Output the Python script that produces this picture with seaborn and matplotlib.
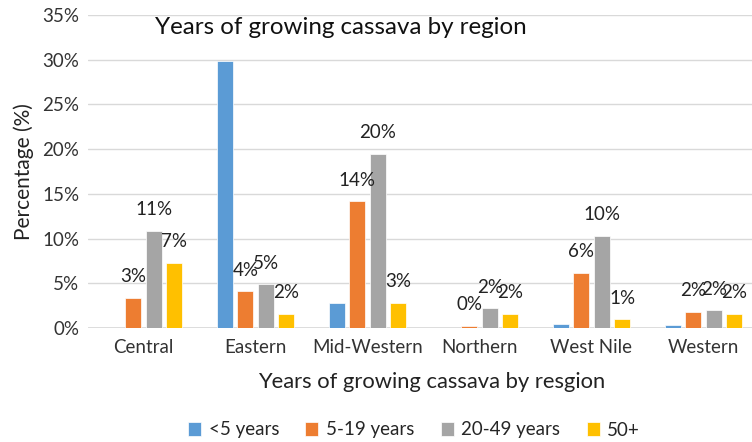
# Import Libraries
import pandas as pd
import matplotlib.pyplot as plt
import seaborn as sns

# Data (percent)
regions = ["Central", "Eastern", "Mid-Western", "Northern", "West Nile", "Western"]
groups = ["<5 years", "5-19 years", "20-49 years", "50+"]
under_5 = [0.0, 29.9, 2.8, 0.0, 0.5, 0.3]
y5_19 = [3.4, 4.1, 14.2, 0.25, 6.2, 1.8]
y20_49 = [10.9, 4.9, 19.5, 2.2, 10.3, 2.0]
y50_plus = [7.3, 1.6, 2.8, 1.6, 1.0, 1.6]
labelled = ["5-19 years", "20-49 years", "50+"]
colors = ["#5B9BD5", "#ED7D31", "#A5A5A5", "#FFC000"]

# Build long table for seaborn
rows = []
for g, vals in zip(groups, [under_5, y5_19, y20_49, y50_plus]):
    for r, v in zip(regions, vals):
        rows.append({"region": r, "group": g, "pct": v})
df = pd.DataFrame(rows)

sns.set_style("white")
plt.rcParams['font.family'] = ['Lato', 'DejaVu Sans']

fig = plt.figure(figsize=(7.52, 4.42), dpi=100)
ax = fig.add_axes([87.5 / 752, 1 - 328 / 442, 672 / 752, 313 / 442])

sns.barplot(data=df, x="region", y="pct", hue="group", order=regions,
            hue_order=groups, palette=colors, saturation=1, width=0.73, gap=0.2,
            edgecolor="white", linewidth=0.5, ax=ax)

ax.set_ylim(0, 35)
ax.set_xlim(-0.5, len(regions) - 0.5)
ax.set_yticks(range(0, 36, 5))
ax.set_yticklabels([f"{t}%" for t in range(0, 36, 5)], fontsize=13.5, color="#333333")
ax.tick_params(axis="x", labelsize=13.5, colors="#333333", length=0, pad=8)
ax.tick_params(axis="y", length=0, pad=6)
ax.grid(axis="y", color="#D9D9D9", linewidth=1)
ax.set_axisbelow(True)
sns.despine(ax=ax, left=True, right=True, top=True, bottom=True)
ax.axhline(0, color="#D9D9D9", linewidth=1.2, zorder=0)

# Data labels on the three labelled series
for cont, g in zip(ax.containers, groups):
    if g not in labelled:
        continue
    for bar in cont:
        h = bar.get_height()
        ax.annotate(f"{h:.0f}%", (bar.get_x() + bar.get_width() / 2, h),
                    xytext=(0, 21), textcoords="offset pixels",
                    ha="center", va="center", fontsize=13.5, color="#222222")

ax.set_xlabel("Years of growing cassava by resgion", fontsize=15.8, color="#222222", labelpad=10)
ax.xaxis.set_label_coords(432 / 752, 1 - 382 / 442, transform=fig.transFigure)
ax.xaxis.label.set_va("center")
ax.set_ylabel("Percentage (%)", fontsize=15, color="#222222", labelpad=6)

# Title sits inside the plot area, like the Excel original
ax.text(155 / 752, 1 - 27 / 442, "Years of growing cassava by region",
        transform=fig.transFigure, fontsize=17.4, color="#111111",
        ha="left", va="center")

ax.legend(loc="center", bbox_to_anchor=(414 / 752, 1 - 430 / 442),
          bbox_transform=fig.transFigure, ncol=4, frameon=False,
          fontsize=13.5, handlelength=0.7, handleheight=0.7,
          handletextpad=0.4, columnspacing=1.4, title=None)

fig.savefig("out.png", dpi=100)
